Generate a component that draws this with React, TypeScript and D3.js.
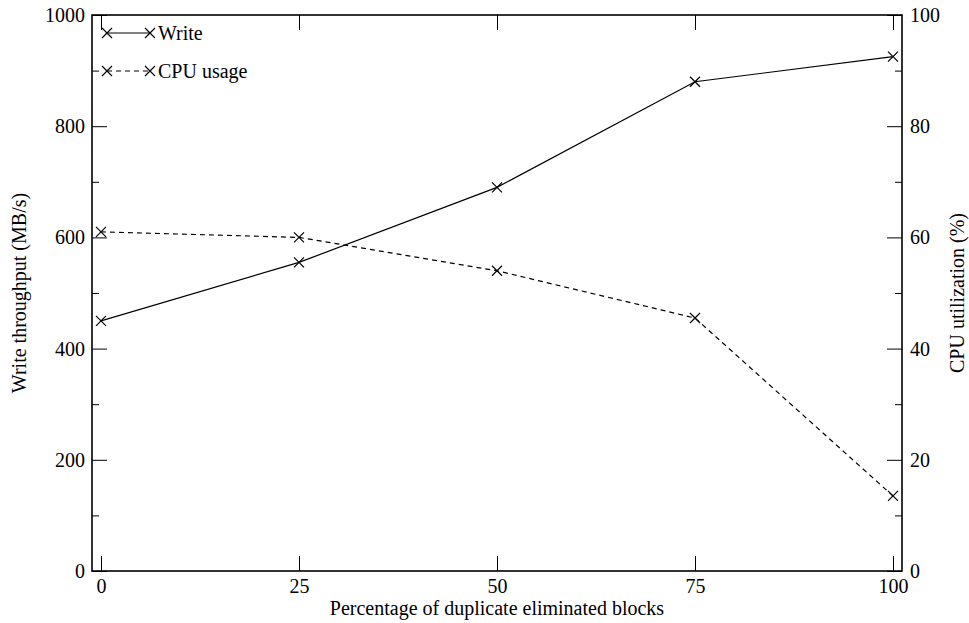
import React, { useEffect, useRef } from "react";
import * as d3 from "d3";

// percentage of duplicate eliminated blocks
const xValues = [0, 25, 50, 75, 100];
// write throughput, MB/s (left axis)
const writeThroughput = [450, 555, 690, 880, 925];
// CPU utilization, % (right axis)
const cpuUsage = [61, 60, 54, 45.5, 13.5];

const xTicks = [0, 25, 50, 75, 100];
const yTicks = [0, 200, 400, 600, 800, 1000];
const yMinorTicks = [100, 300, 500, 700, 900];
const y2Ticks = [0, 20, 40, 60, 80, 100];
const y2MinorTicks = [10, 30, 50, 70, 90];

const FONT = "Liberation Serif";

const App = () => {
  const svgRef = useRef<SVGSVGElement>(null);
  const width = 969;
  const height = 623;

  useEffect(() => {
    const svg = d3.select(svgRef.current);
    svg.selectAll("*").remove();

    const left = 92;
    const right = 902;
    const top = 15;
    const bottom = 571;
    const major = 15;
    const minor = 7;

    const x = d3.scaleLinear().domain([0, 100]).range([101, 893]);
    const y = d3.scaleLinear().domain([0, 1000]).range([bottom, top]);
    const y2 = d3.scaleLinear().domain([0, 100]).range([bottom, top]);
    const fmt = d3.format("d");

    const styleAxis = (g: any) => {
      g.attr("font-family", FONT).attr("font-size", 20);
      g.select(".domain").remove();
      g.selectAll("line").attr("stroke", "#000").attr("stroke-width", 1);
      g.selectAll("text").attr("fill", "#000");
    };

    // left axis
    svg.append("g")
      .attr("transform", `translate(${left},0)`)
      .call(d3.axisLeft(y).tickValues(yTicks).tickFormat(fmt).tickSize(-major).tickPadding(7))
      .call(styleAxis);
    svg.append("g")
      .attr("transform", `translate(${left},0)`)
      .call(d3.axisLeft(y).tickValues(yMinorTicks).tickSize(-minor).tickFormat(() => ""))
      .call(styleAxis);

    // right axis
    svg.append("g")
      .attr("transform", `translate(${right},0)`)
      .call(d3.axisRight(y2).tickValues(y2Ticks).tickFormat(fmt).tickSize(-major).tickPadding(8))
      .call(styleAxis);
    svg.append("g")
      .attr("transform", `translate(${right},0)`)
      .call(d3.axisRight(y2).tickValues(y2MinorTicks).tickSize(-minor).tickFormat(() => ""))
      .call(styleAxis);

    // bottom and top axes
    svg.append("g")
      .attr("transform", `translate(0,${bottom})`)
      .call(d3.axisBottom(x).tickValues(xTicks).tickFormat(fmt).tickSize(-major).tickPadding(8))
      .call(styleAxis);
    svg.append("g")
      .attr("transform", `translate(0,${top})`)
      .call(d3.axisTop(x).tickValues(xTicks).tickSize(-major).tickFormat(() => ""))
      .call(styleAxis);

    // frame
    svg.append("rect")
      .attr("x", left)
      .attr("y", top)
      .attr("width", right - left)
      .attr("height", bottom - top)
      .attr("fill", "none")
      .attr("stroke", "#000")
      .attr("stroke-width", 1.6);

    // axis titles
    svg.append("text")
      .attr("transform", `translate(26,${(top + bottom) / 2}) rotate(-90)`)
      .attr("text-anchor", "middle")
      .text("Write throughput (MB/s)");

    svg.append("text")
      .attr("transform", `translate(964,${(top + bottom) / 2}) rotate(-90)`)
      .attr("text-anchor", "middle")
      .text("CPU utilization (%)");

    svg.append("text")
      .attr("x", (left + right) / 2)
      .attr("y", 615)
      .attr("text-anchor", "middle")
      .text("Percentage of duplicate eliminated blocks");

    const cross = (g: any, cx: number, cy: number) => {
      const s = 5;
      g.append("path")
        .attr("d", `M${cx - s},${cy - s}L${cx + s},${cy + s}M${cx - s},${cy + s}L${cx + s},${cy - s}`)
        .attr("stroke", "#000")
        .attr("stroke-width", 1.2)
        .attr("fill", "none");
    };

    const series = [
      { name: "Write", values: writeThroughput, scale: y, dash: null },
      { name: "CPU usage", values: cpuUsage, scale: y2, dash: "5,4" },
    ];

    series.forEach((s, i) => {
      const line = d3.line<number>()
        .x((_, j) => x(xValues[j]))
        .y((d) => s.scale(d));

      svg.append("path")
        .datum(s.values)
        .attr("d", line)
        .attr("fill", "none")
        .attr("stroke", "#000")
        .attr("stroke-width", 1.2)
        .attr("stroke-dasharray", s.dash);

      const marks = svg.append("g");
      s.values.forEach((v, j) => cross(marks, x(xValues[j]), s.scale(v)));

      // legend entry
      const ly = 33 + i * 38;
      svg.append("line")
        .attr("x1", 107)
        .attr("x2", 150)
        .attr("y1", ly)
        .attr("y2", ly)
        .attr("stroke", "#000")
        .attr("stroke-width", 1.2)
        .attr("stroke-dasharray", s.dash);
      const lg = svg.append("g");
      cross(lg, 107, ly);
      cross(lg, 150, ly);
      svg.append("text")
        .attr("x", 158)
        .attr("y", ly)
        .attr("dy", "0.35em")
        .text(s.name);
    });
  }, []);

  return (
    <svg
      ref={svgRef}
      width={width}
      height={height}
      fontFamily={FONT}
      fontSize={20}
      style={{ position: "absolute", left: 0, top: 0, background: "#fff" }}
    />
  );
};

export default App;
